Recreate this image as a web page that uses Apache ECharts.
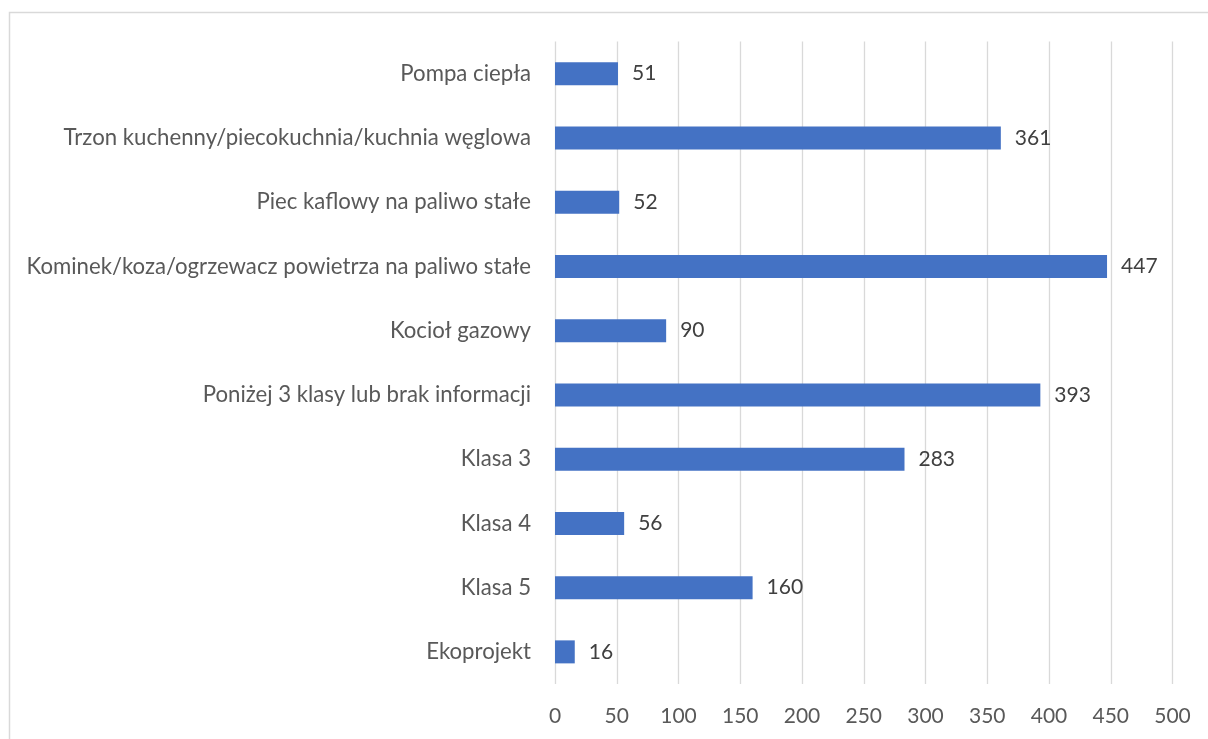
<!DOCTYPE html>
<html><head><meta charset="utf-8">
<script src="https://cdn.jsdelivr.net/npm/echarts@6/dist/echarts.min.js"></script>
<style>html,body{margin:0;padding:0;background:#fff}#c{width:1208px;height:739px}</style>
</head><body><div id="c"></div>
<script>
const categories = ["Ekoprojekt","Klasa 5","Klasa 4","Klasa 3","Poniżej 3 klasy lub brak informacji","Kocioł gazowy","Kominek/koza/ogrzewacz powietrza na paliwo stałe","Piec kaflowy na paliwo stałe","Trzon kuchenny/piecokuchnia/kuchnia węglowa","Pompa ciepła"];
const values = [16,160,56,283,393,90,447,52,361,51];
const xMin = 0, xMax = 500, xStep = 50;
const FONT = 'Lato';
const chart = echarts.init(document.getElementById('c'));
chart.setOption({
  animation:false,
  backgroundColor:'#fff',
  graphic:[{type:'rect',shape:{x:9.5,y:12.5,width:1400,height:900},style:{fill:'none',stroke:'#d9d9d9',lineWidth:1.5},silent:true}],
  grid:{left:555,right:35.5,top:41.5,bottom:55,containLabel:false},
  xAxis:{type:'value',min:xMin,max:xMax,interval:xStep,
    axisLine:{show:false},axisTick:{show:false},
    splitLine:{show:true,lineStyle:{color:'#d9d9d9',width:1.3}},
    axisLabel:{color:'#595959',fontFamily:FONT,fontSize:21,margin:22}},
  yAxis:{type:'category',data:categories,
    axisLine:{show:false},axisTick:{show:false},
    axisLabel:{color:'#595959',fontFamily:FONT,fontSize:22.2,margin:24}},
  series:[{type:'bar',data:values,barWidth:23,
    itemStyle:{color:'#4472C4'},
    label:{show:true,position:'right',distance:14,color:'#404040',fontFamily:FONT,fontSize:21}}]
});
</script></body></html>
